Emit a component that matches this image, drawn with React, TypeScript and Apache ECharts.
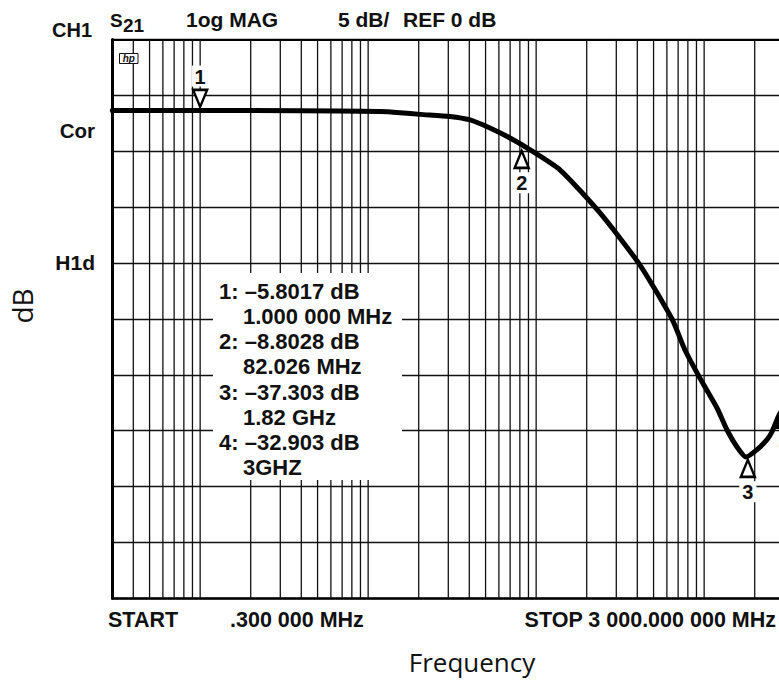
import React, { useEffect, useRef } from "react";
import * as echarts from "echarts";

// ---- data ----
const freqMHz = [0.3, 1, 3.93, 11.77, 15.5, 20.4, 30.7, 40.4, 53.1, 69.9, 88.2, 139, 240, 415, 644, 769, 958, 1193, 1368, 1569, 1775, 2064, 2367, 2535, 2790, 3000];
const traceDb = [-6.35, -6.35, -6.38, -6.45, -6.55, -6.7, -6.89, -7.2, -7.92, -8.81, -9.7, -11.68, -15.52, -20.18, -25.01, -27.78, -30.47, -32.97, -34.94, -36.46, -37.36, -36.7, -35.8, -35.1, -33.6, -32.9];

const gridFreqMHz = [
  0.4, 0.5, 0.6, 0.7, 0.8, 0.9,
  1, 2, 3, 4, 5, 6, 7, 8, 9,
  10, 20, 30, 40, 50, 60, 70, 80, 90,
  100, 200, 300, 400, 500, 600, 700, 800, 900,
  1000, 2000,
];

const markerIds = ["1", "2", "3", "4"];
const markerFreqMHz = [1, 82.026, 1820, 3000];
const markerTraceDb = [-6.35, -9.65, -37.3, -32.9];
const markerPointsUp = [false, true, true, true];
const markerReadoutDb = ["–5.8017 dB", "–8.8028 dB", "–37.303 dB", "–32.903 dB"];
const markerReadoutFreq = ["1.000 000 MHz", "82.026 MHz", "1.82 GHz", "3GHZ"];

const sweepLabels = ["START", ".300 000 MHz", "STOP 3 000.000 000 MHz"];
const sideLabels = ["Cor", "H1d"];

const yMin = -50;
const yMax = 0;
const yStep = 5;
const xMin = 0.3;
const xMax = 3000;

const INK = "#111";
const FONT = "'Liberation Sans', Arial, Helvetica, sans-serif";

function boldText(text: string, x: number, y: number, size: number, align: string = "left", extra: any = {}) {
  return {
    type: "text",
    x,
    y,
    z: 110,
    silent: true,
    style: {
      text,
      fill: INK,
      fontFamily: FONT,
      fontWeight: "bold",
      fontSize: size,
      align,
      verticalAlign: "middle",
      ...extra,
    },
  };
}

export default function App() {
  const ref = useRef<HTMLDivElement>(null);

  useEffect(() => {
    if (!ref.current) return;
    const chart = echarts.init(ref.current, undefined, { renderer: "svg" });

    const graphic: any[] = [];
    // header
    graphic.push(boldText("CH1", 52, 29.5, 20));
    graphic.push(boldText("S", 110, 20.3, 19));
    graphic.push(boldText("21", 123, 25.5, 19));
    graphic.push(boldText("1og MAG", 186, 19.5, 21));
    graphic.push(boldText("5 dB/", 338, 19.5, 21));
    graphic.push(boldText("REF 0 dB", 403, 19.5, 21));
    // left side annotations
    graphic.push(boldText(sideLabels[0], 95, 130, 20.5, "right"));
    graphic.push(boldText(sideLabels[1], 95, 262.7, 21, "right"));
    // sweep labels
    graphic.push(boldText(sweepLabels[0], 108, 619.5, 21.5));
    graphic.push(boldText(sweepLabels[1], 230, 619.5, 21.5));
    graphic.push(boldText(sweepLabels[2], 776, 619.5, 21.5, "right"));
    // hp logo
    graphic.push({
      type: "rect",
      z: 110,
      silent: true,
      shape: { x: 119.5, y: 53.5, width: 18.5, height: 10 },
      style: { fill: "#fff", stroke: INK, lineWidth: 1 },
    });
    graphic.push({
      type: "text",
      x: 128.8,
      y: 58.5,
      z: 111,
      silent: true,
      style: {
        text: "hp",
        fill: INK,
        fontFamily: FONT,
        fontWeight: "bold",
        fontStyle: "italic",
        fontSize: 10,
        align: "center",
        verticalAlign: "middle",
      },
    });
    // marker readout box
    graphic.push({
      type: "rect",
      z: 100,
      silent: true,
      shape: { x: 213, y: 273, width: 189, height: 207 },
      style: { fill: "#fff" },
    });
    markerIds.forEach((id, i) => {
      graphic.push(boldText(`${id}: ${markerReadoutDb[i]}`, 219, 291.7 + 50.2 * i, 22));
      graphic.push(boldText(markerReadoutFreq[i], 243, 316.7 + 50.2 * i, 22));
    });
    // axis titles
    graphic.push({
      type: "text",
      x: 472,
      y: 661.5,
      z: 110,
      silent: true,
      style: {
        text: "Frequency",
        fill: INK,
        fontFamily: "'Open Sans', 'Noto Sans', sans-serif",
        fontSize: 26,
        align: "center",
        verticalAlign: "middle",
      },
    });
    graphic.push({
      type: "text",
      x: 22,
      y: 306,
      rotation: Math.PI / 2,
      z: 110,
      silent: true,
      style: {
        text: "dB",
        fill: INK,
        fontFamily: "'Open Sans', 'Noto Sans', sans-serif",
        fontSize: 28,
        align: "center",
        verticalAlign: "middle",
      },
    });

    const hiddenLog = {
      type: "log",
      logBase: 10,
      min: xMin,
      max: xMax,
      axisTick: { show: false },
      axisLabel: { show: false },
      splitLine: { show: false },
    };

    const option: any = {
      animation: false,
      backgroundColor: "#fff",
      grid: { left: 112.3, right: 800 - 784.3, top: 39.5, bottom: 680 - 598.3, containLabel: false },
      xAxis: [
        {
          ...hiddenLog,
          position: "bottom",
          axisLine: { show: true, onZero: false, lineStyle: { color: "#000", width: 2.6 } },
        },
        {
          ...hiddenLog,
          position: "top",
          axisLine: { show: true, onZero: false, lineStyle: { color: "#000", width: 2.2 } },
        },
      ],
      yAxis: {
        type: "value",
        min: yMin,
        max: yMax,
        interval: yStep,
        axisLine: { show: true, onZero: false, lineStyle: { color: "#000", width: 3 } },
        axisTick: { show: false },
        axisLabel: { show: false },
        splitLine: { show: true, lineStyle: { color: INK, width: 1.3 } },
      },
      graphic,
      series: [
        {
          type: "custom",
          z: 1,
          silent: true,
          xAxisIndex: 0,
          encode: { x: 0, y: 1 },
          data: gridFreqMHz.map((f) => [f, yMax]),
          renderItem: (_p: any, api: any) => {
            const f = api.value(0);
            const top = api.coord([f, yMax]);
            const bottom = api.coord([f, yMin]);
            return {
              type: "line",
              shape: { x1: top[0], y1: top[1], x2: bottom[0], y2: bottom[1] },
              style: { stroke: INK, lineWidth: 1.3 },
            };
          },
        },
        {
          type: "line",
          z: 3,
          silent: true,
          xAxisIndex: 0,
          data: freqMHz.map((f, i) => [f, traceDb[i]]),
          showSymbol: false,
          smooth: 0.2,
          clip: true,
          lineStyle: { color: "#000", width: 5, cap: "round", join: "round" },
        },
        {
          type: "scatter",
          z: 5,
          silent: true,
          xAxisIndex: 0,
          data: markerFreqMHz.map((f, i) => ({
            value: [f, markerTraceDb[i]],
            symbol: markerPointsUp[i] ? "path://M7,0L14,17L0,17Z" : "path://M0,0L14,0L7,17Z",
            symbolOffset: [0, markerPointsUp[i] ? 12 : -12],
            label: {
              show: true,
              formatter: markerIds[i],
              position: markerPointsUp[i] ? "bottom" : "top",
              distance: markerPointsUp[i] ? 3 : 2,
              color: INK,
              fontFamily: FONT,
              fontWeight: "bold",
              fontSize: 20,
              backgroundColor: "#fff",
              padding: [1, 3, 0, 3],
            },
          })),
          symbolSize: [14, 17],
          itemStyle: { color: "#fff", borderColor: "#000", borderWidth: 2.5, opacity: 1 },
        },
      ],
    };

    chart.setOption(option);
    return () => chart.dispose();
  }, []);

  return (
    <div style={{ position: "absolute", left: 0, top: 0, width: 779, height: 680, overflow: "hidden", background: "#fff" }}>
      <div ref={ref} style={{ width: 800, height: 680 }} />
    </div>
  );
}
